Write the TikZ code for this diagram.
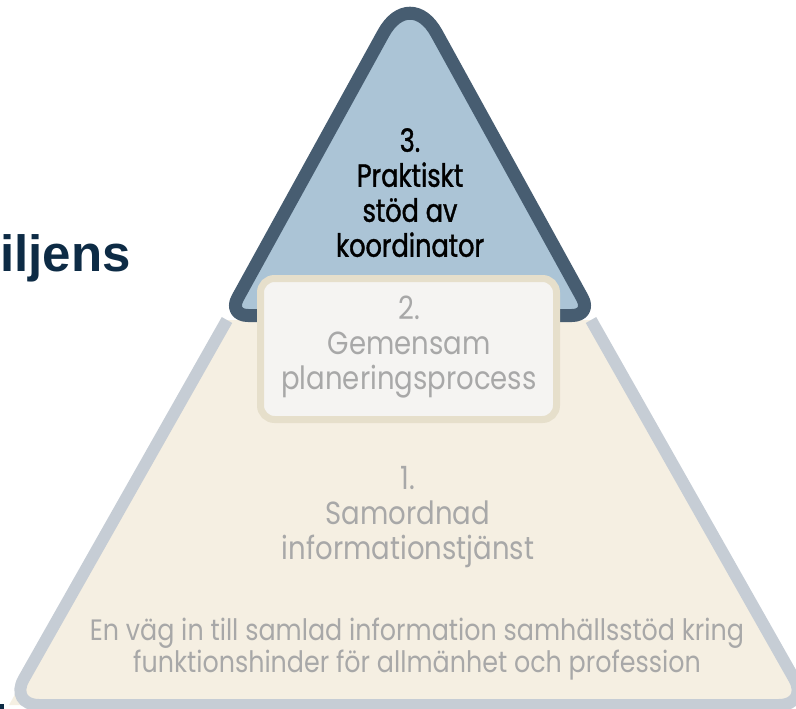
\documentclass[tikz,border=0pt]{standalone}
\usepackage{fontspec}
\newfontfamily\pyrfont[FakeStretch=0.86]{Poppins}
\newfontfamily\pyrtopfont[FakeStretch=0.8,FakeBold=1.2]{Poppins}
\newfontfamily\headfont{Liberation Sans}
\usetikzlibrary{positioning}
\definecolor{topfill}{HTML}{ABC4D6}
\definecolor{topedge}{HTML}{475D71}
\definecolor{basefill}{HTML}{F5EFE2}
\definecolor{baseedge}{HTML}{C6CDD5}
\definecolor{midfill}{HTML}{F5F4F2}
\definecolor{midedge}{HTML}{E6DFCB}
\definecolor{greytext}{HTML}{A8A8A8}
\definecolor{navy}{HTML}{0D2B45}

\begin{document}
\begin{tikzpicture}
	[x=1pt,y=-1pt,
	 level/.style={inner sep=0pt,anchor=north,align=center,font=\pyrfont\fontsize{32}{35}\selectfont},
	 grey level/.style={level,text=greytext},
	 top level/.style={level,text=black,font=\pyrtopfont\fontsize{32}{35}\selectfont}]
	\useasboundingbox (0,0) rectangle (796,709);
	% base of the pyramid
	\fill[basefill] (227,320) -- (9,705) -- (809,705) -- (591,320) -- cycle;
	\draw[baseedge,line width=12pt,rounded corners=30pt] (227,320) -- (9,705) -- (809,705) -- (591,320);
	% top of the pyramid
	\draw[topedge,fill=topfill,line width=13pt,line join=round]
		(410,315.5) [rounded corners=20pt] -- (592,315.5) [rounded corners=55pt] -- (410,-15)
		[rounded corners=20pt] -- (228,315.5) -- cycle;
	% middle box
	\draw[midedge,fill=midfill,line width=7pt,rounded corners=14pt] (260.5,278.5) rectangle (556.5,419.5);
	\node[top level] (lvl3) at (410,128) {3.\\Praktiskt\\stöd av\\koordinator};
	\node[grey level] (lvl2) at (409,296) {2.\\Gemensam\\planeringsprocess};
	\node[grey level] (lvl1) at (408,466) {1.\\Samordnad\\informationstjänst};
	\node[grey level,font=\pyrfont\fontsize{29.5}{32}\selectfont] (lvl1note) at (417,618)
		{En väg in till samlad information samhällsstöd kring\\funktionshinder för allmänhet och profession};
	\node[inner sep=0pt,anchor=base east,text=navy,font=\headfont\bfseries\fontsize{51}{51}\selectfont] (word) at (131,271) {iljens};
	\fill[navy] (0,704) rectangle (4,709);
\end{tikzpicture}
\end{document}
